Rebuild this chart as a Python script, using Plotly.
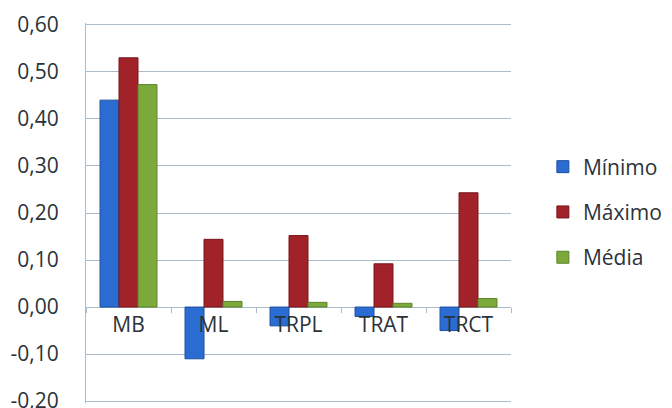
import plotly.graph_objects as go

# Categories and series
categories = ["MB", "ML", "TRPL", "TRAT", "TRCT"]
minimo = [0.44, -0.11, -0.04, -0.02, -0.05]
maximo = [0.53, 0.144, 0.152, 0.092, 0.243]
media = [0.473, 0.012, 0.01, 0.008, 0.018]

# Value axis ticks
y_ticks = [-0.2, -0.1, 0.0, 0.1, 0.2, 0.3, 0.4, 0.5, 0.6]
y_tick_labels = ["-0,20", "-0,10", "0,00", "0,10", "0,20", "0,30", "0,40", "0,50", "0,60"]

series = [
    ("Mínimo", minimo, "#2a6cd2", "#1d4f9e"),
    ("Máximo", maximo, "#a2222a", "#7a161c"),
    ("Média", media, "#7caa3a", "#5b8228"),
]

grid_color = "#a9bccb"
text_color = "#2c3338"
font_family = "Open Sans, Noto Sans, DejaVu Sans, sans-serif"

fig = go.Figure()
for name, vals, color, edge in series:
    fig.add_trace(go.Bar(
        x=categories, y=vals, name=name, legendgroup=name,
        marker=dict(color=color, line=dict(width=1, color=edge)),
    ))

fig.update_layout(
    width=672, height=408,
    margin=dict(l=86, r=147, t=23, b=5),
    paper_bgcolor="white", plot_bgcolor="white",
    barmode="group", bargap=0.33, bargroupgap=0,
    font=dict(family=font_family, size=21, color=text_color),
    showlegend=True,
    legend=dict(
        x=1.075, y=0.675, xanchor="left", yanchor="top",
        tracegroupgap=15, font=dict(size=21, color=text_color),
        itemwidth=30,
    ),
)

fig.update_yaxes(
    automargin=False,
    range=[-0.204, 0.604], tickvals=y_ticks, ticktext=y_tick_labels,
    ticklabeloverflow="allow",
    showgrid=True, gridcolor=grid_color, gridwidth=1,
    zeroline=True, zerolinecolor=grid_color, zerolinewidth=1,
    showline=True, linecolor=grid_color, linewidth=1,
    ticks="", ticklabelstandoff=22,
)

fig.update_xaxes(
    automargin=False,
    type="category", anchor="free", position=(0.0 + 0.204) / 0.808,
    showgrid=False, showline=False, zeroline=False,
    ticks="outside", tickson="boundaries", ticklen=5,
    tickcolor=grid_color, tickwidth=1, ticklabelstandoff=3,
    tickfont=dict(size=21, color=text_color),
)

fig.write_html("out.html")
